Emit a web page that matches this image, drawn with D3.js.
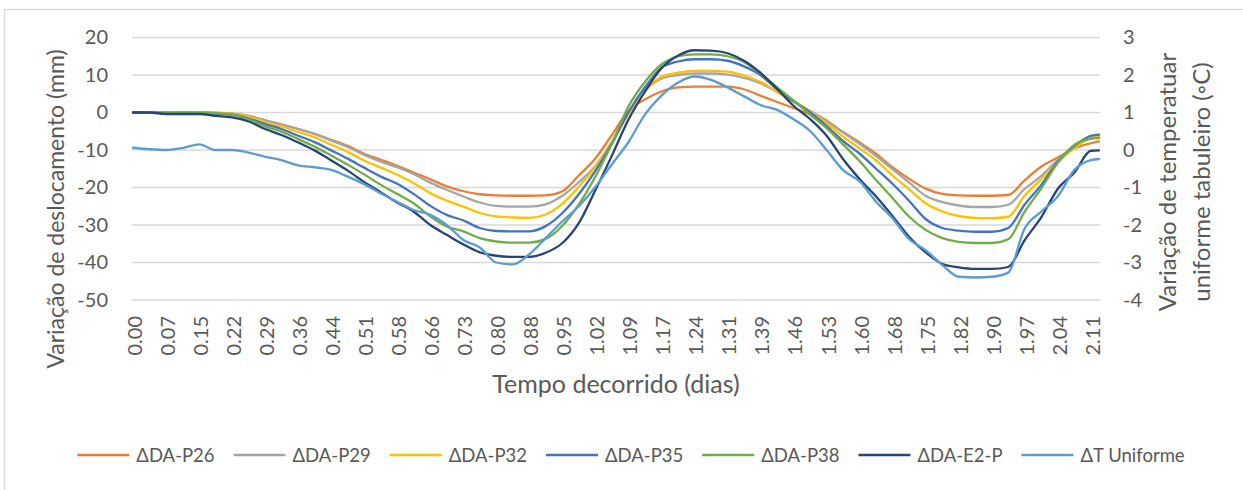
<!DOCTYPE html>
<html><head><meta charset="utf-8">
<script src="https://cdn.jsdelivr.net/npm/d3@7"></script>
<style>
body{margin:0;background:#fff}
text{font-family:Lato, "Open Sans", sans-serif; fill:#595959}
</style>
</head><body>
<svg id="c" width="1243" height="490"></svg>
<script>
// ---- data (elapsed time in days) ----
const time = [0.000,0.036,0.073,0.109,0.146,0.182,0.218,0.255,0.291,0.327,0.364,0.400,0.437,0.473,0.509,0.546,0.582,0.618,0.655,0.691,0.728,0.764,0.800,0.837,0.873,0.909,0.946,0.982,1.019,1.055,1.091,1.128,1.164,1.201,1.237,1.273,1.310,1.346,1.382,1.419,1.455,1.492,1.528,1.564,1.601,1.637,1.673,1.710,1.746,1.783,1.819,1.855,1.892,1.928,1.964,2.001,2.037,2.074,2.110,2.128];
const dP26 = [0,0,0,0,0,-0.1,-0.3,-0.9,-2.1,-3.2,-4.4,-5.7,-7.3,-8.9,-11.0,-12.6,-14.2,-16.0,-17.8,-19.7,-21.0,-21.8,-22.1,-22.2,-22.2,-22.1,-21.0,-16.8,-12.2,-6.0,0.3,3.5,5.6,6.7,6.9,6.9,6.9,6.2,4.5,2.8,1.2,-0.5,-2.4,-5.2,-8.0,-11.0,-14.6,-17.7,-20.3,-21.7,-22.1,-22.2,-22.2,-22.0,-18.1,-14.4,-12.0,-9.5,-8.2,-7.7];
const dP29 = [0,0,0,0,0,-0.1,-0.3,-1.0,-2.1,-3.2,-4.4,-5.7,-7.5,-9.2,-11.3,-13.1,-14.6,-16.4,-18.7,-20.6,-22.4,-24.0,-24.9,-25.1,-25.1,-24.5,-22.2,-18.6,-14.2,-7.8,-0.4,5.8,9.0,10.0,10.4,10.4,10.1,9.2,7.8,5.5,3.0,0.4,-2.1,-5.3,-8.4,-11.6,-15.1,-18.7,-22.2,-23.9,-24.8,-25.2,-25.2,-24.6,-20.4,-16.9,-12.6,-8.9,-6.6,-6.4];
const dP32 = [0,0,0,0,0,-0.2,-0.4,-1.1,-2.6,-3.7,-5.2,-6.6,-8.6,-10.5,-12.8,-14.7,-16.6,-18.8,-21.5,-23.5,-25.1,-26.8,-27.7,-28.0,-28.1,-27.2,-24.3,-19.8,-14.5,-8.0,-0.5,5.8,9.5,10.6,11.1,11.1,10.9,9.8,8.2,5.6,3.0,0.3,-2.8,-6.4,-9.6,-12.8,-16.8,-20.5,-24.2,-26.4,-27.6,-28.1,-28.2,-27.8,-22.2,-17.8,-13.3,-9.5,-6.8,-6.4];
const dP35 = [0,0,-0.2,-0.2,-0.2,-0.4,-0.6,-1.6,-3.1,-4.4,-6.2,-7.9,-10.1,-12.3,-14.7,-17.1,-19.0,-21.7,-24.9,-27.3,-28.8,-30.8,-31.6,-31.7,-31.7,-30.3,-26.8,-21.8,-15.5,-8.3,0.0,6.8,11.9,13.6,14.2,14.2,13.8,12.3,10.0,6.2,3.0,0.0,-3.6,-7.6,-11.0,-15.0,-19.0,-23.6,-28.4,-30.8,-31.5,-31.8,-31.8,-30.8,-24.6,-19.3,-13.1,-8.9,-6.2,-5.9];
const dP38 = [0,0,0,0,0,-0.2,-0.6,-1.8,-3.7,-5.1,-7.1,-9.1,-11.5,-13.9,-16.5,-19.3,-21.7,-24.2,-27.7,-30.4,-31.7,-33.5,-34.4,-34.7,-34.7,-33.7,-30.2,-24.5,-17.0,-8.3,1.5,8.2,12.8,15.0,15.5,15.5,15.0,13.5,10.4,6.7,3.2,-0.6,-4.2,-8.5,-13.0,-18.0,-22.8,-27.8,-31.3,-33.5,-34.5,-34.8,-34.8,-33.8,-26.5,-20.2,-13.5,-8.6,-7.0,-6.8];
const dE2P = [0,0,-0.4,-0.4,-0.4,-0.9,-1.3,-2.4,-4.4,-6.0,-8.0,-10.1,-12.8,-15.5,-18.5,-21.3,-24.0,-26.4,-30.0,-32.6,-35.2,-37.3,-38.2,-38.5,-38.5,-37.4,-34.8,-29.5,-20.6,-11.5,-2.0,5.6,11.8,15.2,16.6,16.5,15.8,13.8,10.6,6.3,1.8,-1.8,-6.2,-12.4,-17.8,-22.4,-27.6,-33.2,-37.3,-40.4,-41.3,-41.7,-41.7,-41.2,-34.1,-27.9,-20.4,-16.0,-10.2,-10.1];
const dTUniforme = [0.06,0.02,0.0,0.05,0.15,0.0,0.0,-0.07,-0.18,-0.27,-0.41,-0.46,-0.53,-0.71,-0.91,-1.16,-1.38,-1.6,-1.73,-2.0,-2.4,-2.6,-3.0,-3.05,-2.78,-2.35,-1.9,-1.5,-0.98,-0.38,0.2,0.95,1.45,1.8,1.96,1.87,1.67,1.43,1.2,1.07,0.82,0.5,0.0,-0.53,-0.84,-1.38,-1.82,-2.38,-2.67,-3.07,-3.38,-3.4,-3.38,-3.27,-2.1,-1.64,-1.24,-0.53,-0.27,-0.24];

const seriesNames = ["\u0394DA-P26","\u0394DA-P29","\u0394DA-P32","\u0394DA-P35","\u0394DA-P38","\u0394DA-E2-P","\u0394T Uniforme"];
const seriesColors = ["#ED7D31","#A5A5A5","#FFC000","#4472C4","#70AD47","#264478","#5B9BD5"];
const xTickLabels = ["0.00","0.07","0.15","0.22","0.29","0.36","0.44","0.51","0.58","0.66","0.73","0.80","0.88","0.95","1.02","1.09","1.17","1.24","1.31","1.39","1.46","1.53","1.60","1.68","1.75","1.82","1.90","1.97","2.04","2.11"];
const yLeftTicks = [20,10,0,-10,-20,-30,-40,-50];
const yRightTicks = [3,2,1,0,-1,-2,-3,-4];

// ---- layout ----
const svg = d3.select("#c");
const L = 133, R = 1099, T = 37.5, B = 300;
const x = d3.scaleLinear().domain([0, 2.128]).range([L, R]);
const yL = d3.scaleLinear().domain([-50, 20]).range([B, T]);
const yR = d3.scaleLinear().domain([-4, 3]).range([B, T]);
const fmt = d => String(d);

// chart border
svg.append("rect").attr("x",4.5).attr("y",9.5).attr("width",1400).attr("height",700)
  .attr("fill","none").attr("stroke","#d9d9d9").attr("stroke-width",1.3);

// gridlines
svg.append("g").selectAll("line").data(yLeftTicks).join("line")
  .attr("x1",L-1).attr("x2",R+1).attr("y1",d=>yL(d)).attr("y2",d=>yL(d))
  .attr("stroke","#d9d9d9").attr("stroke-width",1.5);

// x axis
const step = 2.11/29;
const xTickPos = xTickLabels.map((_,i)=>i*step);
const gx = svg.append("g").attr("transform",`translate(0,${B})`)
  .call(d3.axisBottom(x).tickValues(xTickPos).tickFormat((d,i)=>xTickLabels[i]).tickSize(0));
gx.select(".domain").remove();
gx.selectAll("text").attr("transform","rotate(-90)").attr("x",-16).attr("y",0).attr("dy","0.42em")
  .attr("text-anchor","end").style("font-size","20px").style("font-family","Lato").attr("fill","#595959");

// y axes
const gl = svg.append("g").attr("transform","translate(108,0)")
  .call(d3.axisLeft(yL).tickValues(yLeftTicks).tickFormat(fmt).tickSize(0).tickPadding(0));
gl.select(".domain").remove();
gl.selectAll("text").style("font-size","20px").style("font-family","Lato").attr("fill","#595959");
const gr = svg.append("g").attr("transform","translate(1123,0)")
  .call(d3.axisRight(yR).tickValues(yRightTicks).tickFormat(fmt).tickSize(0).tickPadding(0));
gr.select(".domain").remove();
gr.selectAll("text").style("font-size","20px").style("font-family","Lato").attr("fill","#595959");

// lines
const seriesData = [dP26,dP29,dP32,dP35,dP38,dE2P];
seriesData.forEach((vals,si)=>{
  const line = d3.line().x((d,i)=>x(time[i])).y(d=>yL(d)).curve(d3.curveMonotoneX);
  svg.append("path").datum(vals).attr("d",line).attr("fill","none")
    .attr("stroke",seriesColors[si]).attr("stroke-width",2.3).attr("stroke-linejoin","round").attr("stroke-linecap","round");
});
const lineT = d3.line().x((d,i)=>x(time[i])).y(d=>yR(d)).curve(d3.curveMonotoneX);
svg.append("path").datum(dTUniforme).attr("d",lineT).attr("fill","none")
  .attr("stroke",seriesColors[6]).attr("stroke-width",2.3).attr("stroke-linejoin","round").attr("stroke-linecap","round");

// axis titles
svg.append("text").attr("x",616).attr("y",383).attr("text-anchor","middle").attr("dominant-baseline","central")
  .style("font-size","25px").text("Tempo decorrido (dias)");
svg.append("text").attr("transform","translate(55,209) rotate(-90)").attr("text-anchor","middle").attr("dominant-baseline","central")
  .style("font-size","23px").text("Variação de deslocamento (mm)");
svg.append("text").attr("transform","translate(1166,182) rotate(-90)").attr("text-anchor","middle").attr("dominant-baseline","central")
  .style("font-size","24px").text("Variação de temperatuar");
svg.append("text").attr("transform","translate(1200,182) rotate(-90)").attr("text-anchor","middle").attr("dominant-baseline","central")
  .style("font-size","24px").text("uniforme tabuleiro (\u25E6C)");

// legend
const lg = svg.append("g");
let lx = 0;
seriesNames.forEach((n,i)=>{
  const g = lg.append("g").attr("transform",`translate(${lx},0)`);
  g.append("line").attr("x1",0).attr("x2",52).attr("y1",0).attr("y2",0)
    .attr("stroke",seriesColors[i]).attr("stroke-width",2.5);
  const t = g.append("text").attr("x",59).attr("y",0).attr("dominant-baseline","central")
    .style("font-size","18.5px").text(n);
  const w = t.node().getComputedTextLength();
  lx += 59 + w + (i<seriesNames.length-1 ? 19 : 0);
});
lg.attr("transform",`translate(${631 - lx/2},455)`);
</script>
</body></html>
